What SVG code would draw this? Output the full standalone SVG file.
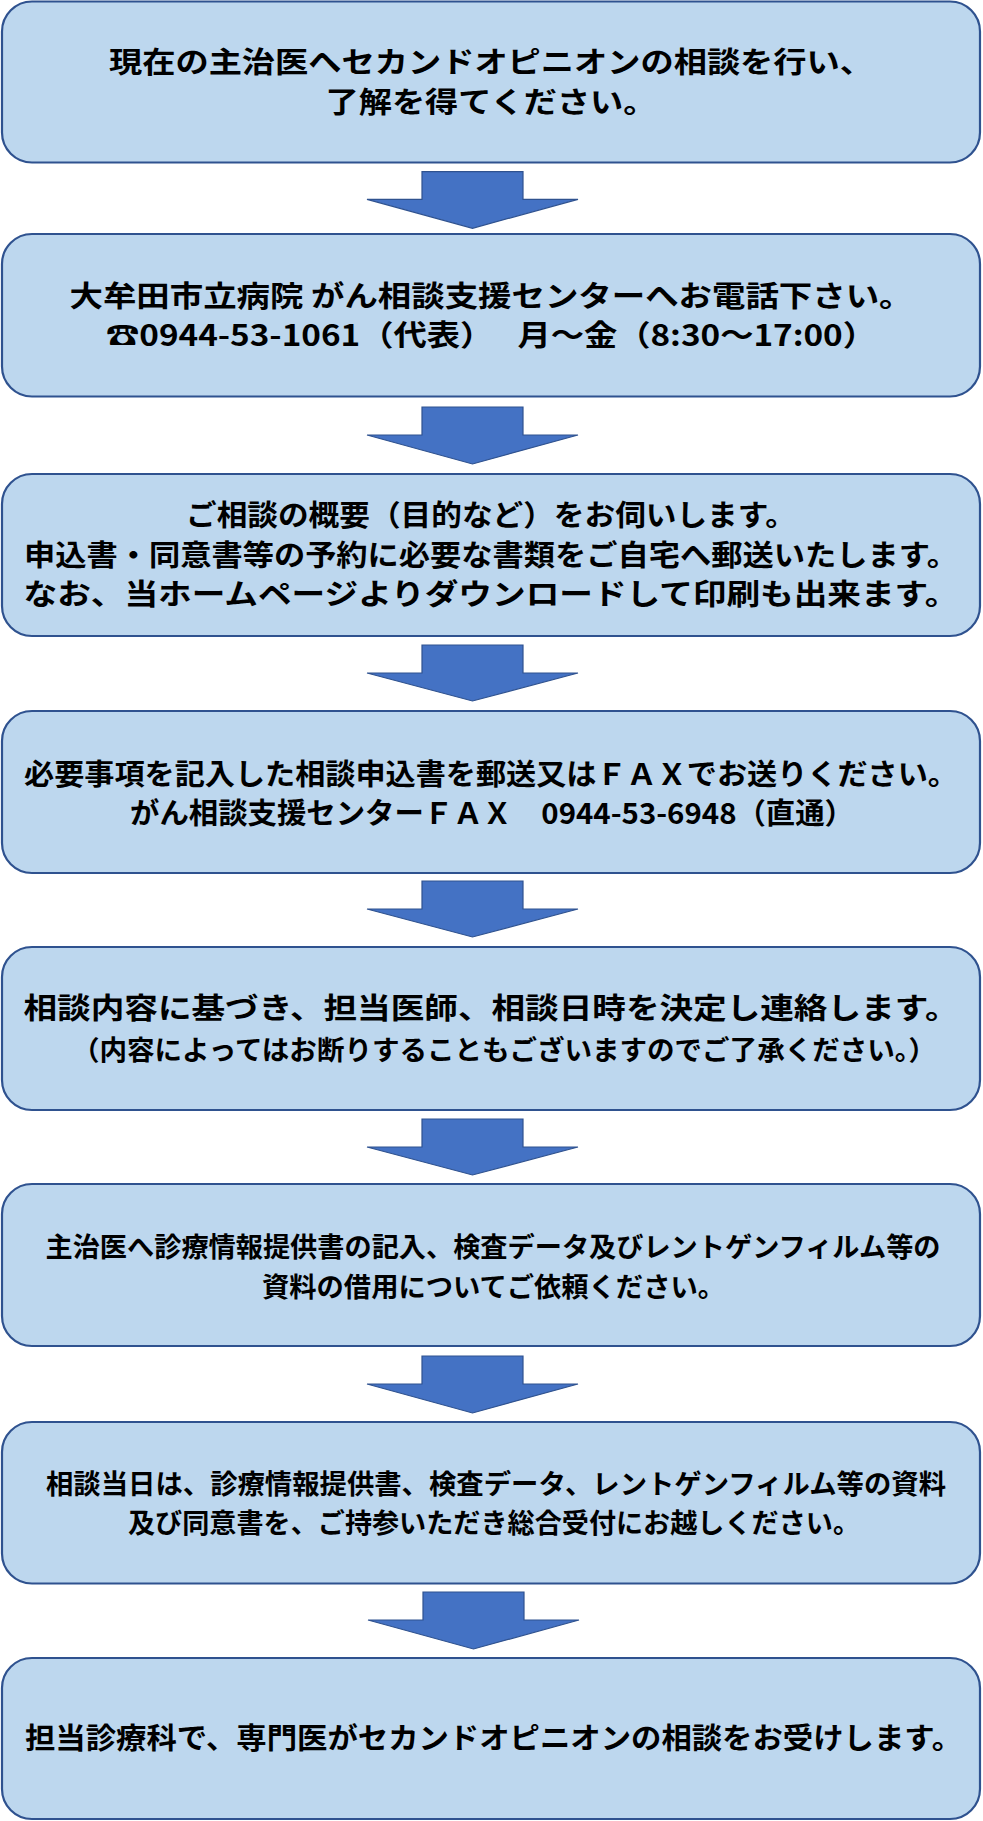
<svg xmlns="http://www.w3.org/2000/svg" width="983" height="1821" viewBox="0 0 983 1821">
<style>
.box{fill:#BDD7EE;stroke:#2F528F;stroke-width:2.2}
.arr{fill:#4472C4;stroke:#2F528F;stroke-width:1.2}
.t{font-family:"Noto Sans CJK JP","Noto Sans",sans-serif;font-weight:bold;font-size:29px;fill:#000;text-anchor:middle}
.c{font-size:27px}
</style>
<rect width="983" height="1821" fill="#fff"/>
<g id="connectors">
<polygon class="arr" points="422,171.7 523,171.7 523,199.3 578,199.3 472.5,228.3 367,199.3 422,199.3"/>
<polygon class="arr" points="422,407 523,407 523,435 578,435 472.5,464 367,435 422,435"/>
<polygon class="arr" points="422,645 523,645 523,673 578,673 472.5,701 367,673 422,673"/>
<polygon class="arr" points="422,881 523,881 523,909 578,909 472.5,937 367,909 422,909"/>
<polygon class="arr" points="422,1119 523,1119 523,1147 578,1147 472.5,1175 367,1147 422,1147"/>
<polygon class="arr" points="422,1356 523,1356 523,1384 578,1384 472.5,1413 367,1384 422,1384"/>
<polygon class="arr" points="423,1592 524,1592 524,1620 579,1620 473.5,1649 368,1620 423,1620"/>
</g>
<g id="n1">
<rect class="box" x="2" y="1.5" width="978" height="161" rx="30"/>
<text class="t" x="491" y="73" textLength="764" lengthAdjust="spacingAndGlyphs">現在の主治医へセカンドオピニオンの相談を行い、</text>
<text class="t" x="491" y="113" textLength="331" lengthAdjust="spacingAndGlyphs">了解を得てください。</text>
</g>
<g id="n2">
<rect class="box" x="2" y="234" width="978" height="162.5" rx="30"/>
<text class="t" x="491" y="307" textLength="843" lengthAdjust="spacingAndGlyphs">大牟田市立病院 がん相談支援センターへお電話下さい。</text>
<text class="t" x="491" y="346" textLength="770" lengthAdjust="spacingAndGlyphs">☎0944-53-1061（代表）　 月～金（8:30～17:00）</text>
</g>
<g id="n3">
<rect class="box" x="2" y="474" width="978" height="162" rx="30"/>
<text class="t" x="491" y="526" textLength="610" lengthAdjust="spacingAndGlyphs">ご相談の概要（目的など）をお伺いします。</text>
<text class="t" x="491" y="566" textLength="934" lengthAdjust="spacingAndGlyphs">申込書・同意書等の予約に必要な書類をご自宅へ郵送いたします。</text>
<text class="t" x="491" y="605" textLength="935" lengthAdjust="spacingAndGlyphs">なお、当ホームページよりダウンロードして印刷も出来ます。</text>
</g>
<g id="n4">
<rect class="box" x="2" y="711" width="978" height="162" rx="30"/>
<text class="t" x="491" y="785" textLength="934" lengthAdjust="spacingAndGlyphs">必要事項を記入した相談申込書を郵送又はＦＡＸでお送りください。</text>
<text class="t" x="492" y="824" textLength="724" lengthAdjust="spacingAndGlyphs">がん相談支援センターＦＡＸ　0944-53-6948（直通）</text>
</g>
<g id="n5">
<rect class="box" x="2" y="947" width="978" height="163" rx="30"/>
<text class="t" x="491" y="1019" textLength="935" lengthAdjust="spacingAndGlyphs">相談内容に基づき、担当医師、相談日時を決定し連絡します。</text>
<text class="t c" x="504" y="1060" textLength="864" lengthAdjust="spacingAndGlyphs">（内容によってはお断りすることもございますのでご了承ください。）</text>
</g>
<g id="n6">
<rect class="box" x="2" y="1184" width="978" height="162" rx="30"/>
<text class="t c" x="493" y="1257" textLength="895" lengthAdjust="spacingAndGlyphs">主治医へ診療情報提供書の記入、検査データ及びレントゲンフィルム等の</text>
<text class="t c" x="493.5" y="1297" textLength="463" lengthAdjust="spacingAndGlyphs">資料の借用についてご依頼ください。</text>
</g>
<g id="n7">
<rect class="box" x="2" y="1422" width="978" height="161.5" rx="30"/>
<text class="t c" x="496" y="1494" textLength="900" lengthAdjust="spacingAndGlyphs">相談当日は、診療情報提供書、検査データ、レントゲンフィルム等の資料</text>
<text class="t c" x="494" y="1533" textLength="732" lengthAdjust="spacingAndGlyphs">及び同意書を、ご持参いただき総合受付にお越しください。</text>
</g>
<g id="n8">
<rect class="box" x="2" y="1658" width="978" height="161" rx="30"/>
<text class="t" x="493.5" y="1749" textLength="937" lengthAdjust="spacingAndGlyphs">担当診療科で、専門医がセカンドオピニオンの相談をお受けします。</text>
</g>
</svg>
